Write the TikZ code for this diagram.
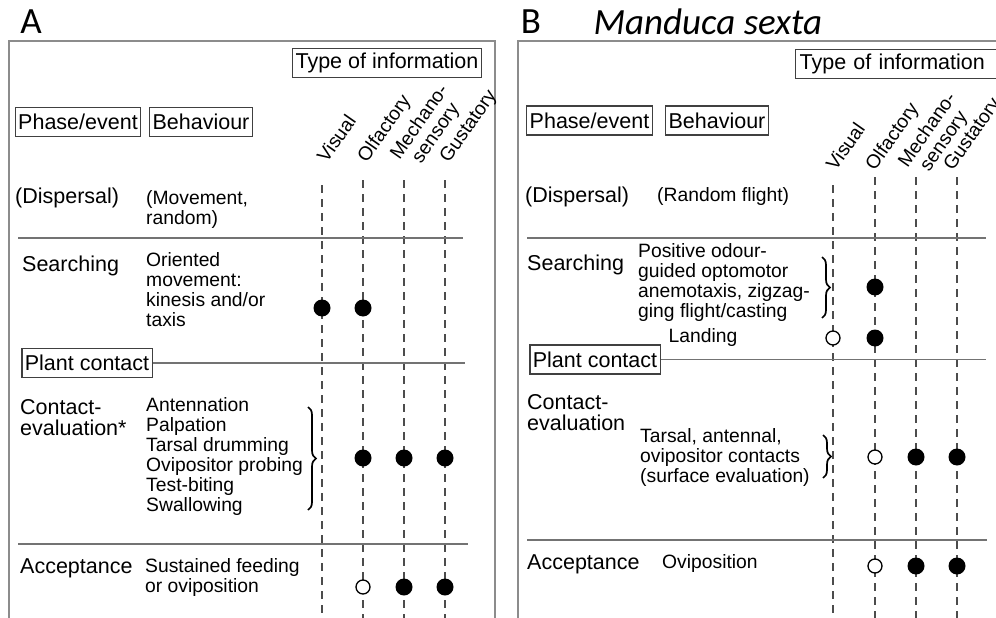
\documentclass[tikz,border=0pt]{standalone}
\usepackage{fontspec}
\setmainfont{Liberation Sans}
\newfontfamily\titlefont{Carlito}
\usepackage{tikz}
\usetikzlibrary{decorations.pathreplacing}

\newcommand{\bigtxt}{\fontsize{21.5}{21}\selectfont}
\newcommand{\smalltxt}{\fontsize{19.3}{20}\selectfont}
\newcommand{\paneltxt}{\titlefont\fontsize{37}{37}\selectfont}

\tikzset{
  hdrbox/.style={draw=black!75,line width=1.3pt,inner xsep=3pt,inner ysep=0pt,minimum height=29pt,font=\bigtxt},
  phase/.style={anchor=west,inner sep=0pt,align=left,font=\bigtxt},
  behav/.style={anchor=west,inner sep=0pt,align=left,font=\smalltxt},
  infotype/.style={rotate=55,anchor=south west,inner sep=0pt,text depth=0pt,align=center,font=\smalltxt},
  infoline/.style={dash pattern=on 8pt off 6pt,line width=1.3pt,black!70},
  rowline/.style={line width=1.6pt,black!55},
  panelframe/.style={line width=2pt,black!45},
  ondot/.style={shape=circle,fill=black,inner sep=0pt,minimum size=17pt},
  offdot/.style={shape=circle,draw=black,line width=1.3pt,fill=white,inner sep=0pt,minimum size=14pt},
  curly/.style={decorate,decoration={brace,amplitude=8pt},line width=1.7pt}
}

\begin{document}
\begin{tikzpicture}[x=1pt,y=-1pt]
\useasboundingbox (0,0) rectangle (996,618);
\clip (0,0) rectangle (996,618);

% ---- panel A
\path node (ttlA) at (31,22) [font=\paneltxt] {A};
\draw [panelframe] (9,625) -- (9,41) -- (495,41) -- (495,625);
\path node (typeA) at (387,63) [hdrbox] {Type of information}
      node (phA) at (78,122) [hdrbox] {Phase/event}
      node (bhA) at (201,122) [hdrbox] {Behaviour};
\path node (visA) at (327,164) [infotype] {Visual}
      node (olfA) at (367,164) [infotype] {Olfactory}
      node (mecA) at (416,172) [infotype] {Mechano-\\sensory}
      node (gusA) at (449,164) [infotype] {Gustatory};
\path coordinate (visAt) at (322,185) coordinate (visAb) at (322,625)
      coordinate (olfAt) at (363,180) coordinate (olfAb) at (363,625)
      coordinate (mecAt) at (404,180) coordinate (mecAb) at (404,625)
      coordinate (gusAt) at (445,180) coordinate (gusAb) at (445,625);
\draw [infoline] (visAt) -- (visAb);
\draw [infoline] (olfAt) -- (olfAb);
\draw [infoline] (mecAt) -- (mecAb);
\draw [infoline] (gusAt) -- (gusAb);

\path node (dspA) at (15,198) [phase] {(Dispersal)}
      node (mvA) at (146,210) [behav] {(Movement,\\random)};
\path coordinate (r1Al) at (18,238) coordinate (r1Ar) at (463,238);
\draw [rowline] (r1Al) -- (r1Ar);

\path node (srA) at (22,266) [phase] {Searching}
      node (orA) at (146,290) [behav] {Oriented\\movement:\\kinesis and/or\\taxis};
\path node (d1) at (322,308) [ondot] {}
      node (d2) at (363,308) [ondot] {};

\path node (pcA) at (87,363) [hdrbox] {Plant contact};
\path coordinate (r2Ar) at (465,363);
\draw [rowline] (pcA.east) -- (r2Ar);

\path node (ceA) at (20,418) [phase] {Contact-\\evaluation*}
      node (anA) at (146,457) [behav] {Antennation\\Palpation\\Tarsal drumming\\Ovipositor probing\\Test-biting\\Swallowing};
\draw [curly] (308,407) -- (308,510);
\path node (d3) at (363,458) [ondot] {}
      node (d4) at (404,458) [ondot] {}
      node (d5) at (445,458) [ondot] {};

\path coordinate (r3Al) at (18,544) coordinate (r3Ar) at (468,544);
\draw [rowline] (r3Al) -- (r3Ar);
\path node (acA) at (20,568) [phase] {Acceptance}
      node (sfA) at (145,578) [behav] {Sustained feeding\\or oviposition};
\path node (d6) at (363,587) [offdot] {}
      node (d7) at (404,587) [ondot] {}
      node (d8) at (445,587) [ondot] {};

% ---- panel B
\path node (ttlB) at (531,22) [font=\paneltxt] {B}
      node (spB) at (590,22) [anchor=west,font=\paneltxt\itshape] {Manduca sexta};
\draw [panelframe] (518,625) -- (518,41) -- (1005,41);
\path node (typeB) at (795,64) [hdrbox,anchor=west,text width=210pt,align=left,inner xsep=4pt] {Type of information}
      node (phB) at (589.5,120.5) [hdrbox] {Phase/event}
      node (bhB) at (717,120.5) [hdrbox] {Behaviour};
\path node (visB) at (836,172) [infotype] {Visual}
      node (olfB) at (875,172) [infotype] {Olfactory}
      node (mecB) at (924,180) [infotype] {Mechano-\\sensory}
      node (gusB) at (953,172) [infotype] {Gustatory};
\path coordinate (visBt) at (833,185) coordinate (visBb) at (833,625)
      coordinate (olfBt) at (875,177) coordinate (olfBb) at (875,625)
      coordinate (mecBt) at (916,177) coordinate (mecBb) at (916,625)
      coordinate (gusBt) at (957,177) coordinate (gusBb) at (957,625);
\draw [infoline] (visBt) -- (visBb);
\draw [infoline] (olfBt) -- (olfBb);
\draw [infoline] (mecBt) -- (mecBb);
\draw [infoline] (gusBt) -- (gusBb);

\path node (dspB) at (525,197) [phase] {(Dispersal)}
      node (rfB) at (657,197) [behav] {(Random flight)};
\path coordinate (r1Bl) at (527,238) coordinate (r1Br) at (986,238);
\draw [rowline] (r1Bl) -- (r1Br);

\path node (srB) at (527,265) [phase] {Searching}
      node (poB) at (638,283) [behav] {Positive odour-\\guided optomotor\\anemotaxis, zigzag-\\ging flight/casting};
\draw [curly] (822,257) -- (822,318);
\path node (e1) at (875,287) [ondot] {};
\path node (ldB) at (703,338) [behav,anchor=center] {Landing};
\path node (e2) at (833,338) [offdot] {}
      node (e3) at (875,338) [ondot] {};

\path node (pcB) at (595,359.5) [hdrbox] {Plant contact};
\path coordinate (r2Br) at (986,359.5);
\draw [rowline] (pcB.east) -- (r2Br);

\path node (ceB) at (527,413) [phase] {Contact-\\evaluation}
      node (taB) at (640,458) [behav] {Tarsal, antennal,\\ovipositor contacts\\(surface evaluation)};
\draw [curly] (823,435) -- (823,478);
\path node (e4) at (875,457) [offdot] {}
      node (e5) at (916,457) [ondot] {}
      node (e6) at (957,457) [ondot] {};

\path coordinate (r3Bl) at (527,540) coordinate (r3Br) at (987,540);
\draw [rowline] (r3Bl) -- (r3Br);
\path node (acB) at (527,564) [phase] {Acceptance}
      node (ovB) at (662,564) [behav] {Oviposition};
\path node (e7) at (875,566) [offdot] {}
      node (e8) at (916,566) [ondot] {}
      node (e9) at (957,566) [ondot] {};
\end{tikzpicture}
\end{document}
